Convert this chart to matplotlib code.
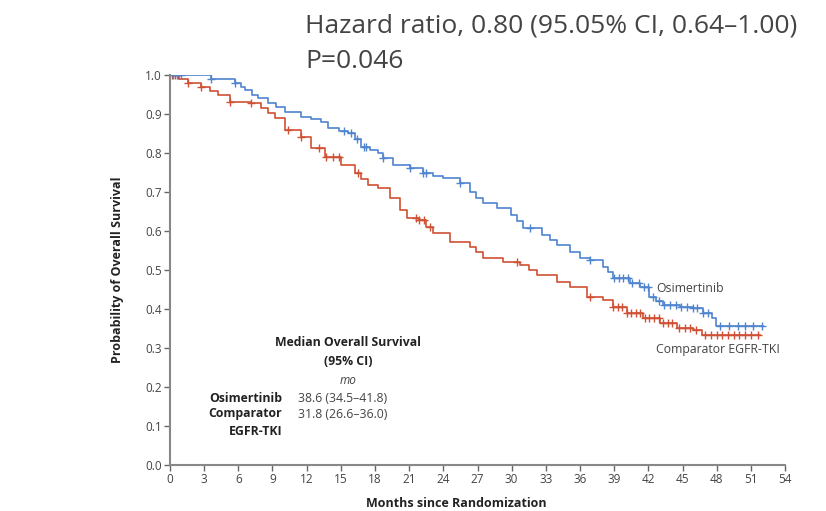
import numpy as np
import matplotlib
matplotlib.use("Agg")
import matplotlib.pyplot as plt

plt.rcParams["font.family"] = ["Open Sans", "DejaVu Sans"]

# Kaplan-Meier step points (months, survival)
osi_t = [0, 3.6, 5.7, 6.2, 6.6, 7.2, 7.7, 8.6, 9.3, 10.1, 11.5, 12.4, 13.3, 13.9,
         14.8, 15.6, 16.2, 16.8, 17.6, 18.3, 18.7, 19.6, 21.1, 22.2, 23.1, 24.0,
         25.5, 26.3, 26.9, 27.5, 28.7, 29.9, 30.5, 31.0, 32.7, 33.4, 34.0, 35.1,
         36.0, 36.9, 38.0, 38.5, 38.9, 40.4, 41.3, 42.1, 42.7, 43.3, 44.8, 45.9,
         46.8, 47.6, 47.9, 52.1]
osi_s = [1.0, 0.991, 0.98, 0.97, 0.962, 0.95, 0.94, 0.928, 0.918, 0.906, 0.893,
         0.886, 0.88, 0.864, 0.857, 0.851, 0.835, 0.816, 0.808, 0.80, 0.787,
         0.769, 0.761, 0.748, 0.742, 0.735, 0.723, 0.70, 0.685, 0.672, 0.659,
         0.641, 0.625, 0.608, 0.59, 0.578, 0.564, 0.546, 0.531, 0.526, 0.508,
         0.494, 0.479, 0.467, 0.456, 0.431, 0.42, 0.41, 0.405, 0.402, 0.39,
         0.377, 0.356, 0.356]
osi_cens = [0.3, 0.6, 1.0, 3.6, 5.7, 15.3, 15.9, 16.4, 17.0, 17.2, 18.7, 21.1,
            22.2, 22.5, 25.5, 31.6, 36.9, 39.0, 39.4, 39.8, 40.2, 40.6, 41.2,
            41.6, 42.0, 42.4, 42.9, 43.4, 43.9, 44.4, 44.9, 45.4, 45.9, 46.3,
            46.8, 47.2, 48.3, 49.1, 49.9, 50.5, 51.2, 52.0]

cmp_t = [0, 0.8, 1.6, 2.7, 3.5, 4.2, 5.3, 7.1, 8.0, 8.6, 9.2, 10.1, 11.5, 12.4,
         13.6, 15.0, 16.2, 16.8, 17.4, 18.3, 19.3, 20.2, 20.8, 21.9, 22.5, 23.1,
         24.6, 26.3, 26.9, 27.5, 29.2, 30.7, 31.5, 32.2, 34.0, 35.1, 36.6, 38.0,
         38.9, 40.1, 41.5, 43.0, 44.5, 45.9, 46.7, 51.8]
cmp_s = [1.0, 0.99, 0.979, 0.969, 0.958, 0.949, 0.932, 0.928, 0.915, 0.903,
         0.89, 0.859, 0.842, 0.813, 0.79, 0.769, 0.749, 0.733, 0.718, 0.71,
         0.685, 0.654, 0.633, 0.628, 0.61, 0.595, 0.572, 0.559, 0.545, 0.531,
         0.521, 0.513, 0.50, 0.487, 0.469, 0.456, 0.431, 0.423, 0.405, 0.39,
         0.377, 0.364, 0.351, 0.346, 0.333, 0.333]
cmp_cens = [0.2, 0.4, 0.7, 1.6, 2.7, 5.3, 7.1, 10.4, 11.5, 13.1, 13.7, 14.3,
            14.8, 16.5, 21.6, 21.9, 22.3, 22.8, 30.5, 36.9, 38.9, 39.3, 39.7,
            40.1, 40.5, 40.9, 41.3, 41.7, 42.1, 42.5, 42.9, 43.3, 43.7, 44.1,
            44.7, 45.2, 45.7, 46.2, 47.0, 47.5, 48.0, 48.5, 49.0, 49.5, 50.0,
            50.5, 51.0, 51.6]

x_ticks = list(range(0, 55, 3))
y_ticks = [0.0, 0.1, 0.2, 0.3, 0.4, 0.5, 0.6, 0.7, 0.8, 0.9, 1.0]

BLUE = "#4f84cf"
RED = "#cf5034"
GREY = "#444444"
DARK = "#222222"


def step_at(ts, ss, x):
    idx = np.searchsorted(ts, x, side="right") - 1
    return np.asarray(ss)[idx]


fig = plt.figure(figsize=(8.26, 5.11), dpi=100)
ax = fig.add_axes([0.2058, 0.09, 0.7446, 0.7632])

for ts, ss, cens, c in ((cmp_t, cmp_s, cmp_cens, RED), (osi_t, osi_s, osi_cens, BLUE)):
    ax.step(ts, ss, where="post", color=c, lw=1.2)
    ax.plot(cens, step_at(ts, ss, cens), ls="none", marker="+", ms=6, mew=1.0, color=c)

ax.set_xlim(0, 54)
ax.set_ylim(0, 1.0)
ax.set_xticks(x_ticks)
ax.set_yticks(y_ticks)
ax.set_yticklabels([f"{v:.1f}" for v in y_ticks])
ax.spines["top"].set_visible(False)
ax.spines["right"].set_visible(False)
for sp in ("left", "bottom"):
    ax.spines[sp].set_color("#888888")
    ax.spines[sp].set_linewidth(1.5)
ax.tick_params(direction="out", length=4, width=1, color="#666666",
               labelsize=8.5, labelcolor=GREY, pad=2)


def ft(x, y, s, color=DARK, **kw):
    fig.text(x / 826, 1 - y / 511, s, va="center", color=color, **kw)


ft(118, 270, "Probability of Overall Survival", rotation=90, ha="center",
   fontsize=9, fontweight="bold")
ft(456, 503, "Months since Randomization", ha="center", fontsize=9, fontweight="bold")

ft(305, 26, "Hazard ratio, 0.80 (95.05% CI, 0.64\u20131.00)", ha="left",
   fontsize=19, color=GREY)
ft(305, 62, "P=0.046", ha="left", fontsize=19, color=GREY)

# median OS box
ft(348, 342, "Median Overall Survival", ha="center", fontsize=8.8, fontweight="bold")
ft(348, 361, "(95% CI)", ha="center", fontsize=8.8, fontweight="bold")
ft(348, 380, "mo", ha="center", fontsize=8.5, style="italic", color=GREY)
ft(282, 398, "Osimertinib", ha="right", fontsize=8.8, fontweight="bold")
ft(282, 414, "Comparator", ha="right", fontsize=8.8, fontweight="bold")
ft(282, 431, "EGFR-TKI", ha="right", fontsize=8.8, fontweight="bold")
ft(298, 398, "38.6 (34.5\u201341.8)", ha="left", fontsize=8.8, color=GREY)
ft(298, 414, "31.8 (26.6\u201336.0)", ha="left", fontsize=8.8, color=GREY)

ft(656, 288, "Osimertinib", ha="left", fontsize=8.8, color=GREY)
ft(656, 350, "Comparator EGFR-TKI", ha="left", fontsize=8.8, color=GREY)

fig.savefig("out.png", dpi=100)
